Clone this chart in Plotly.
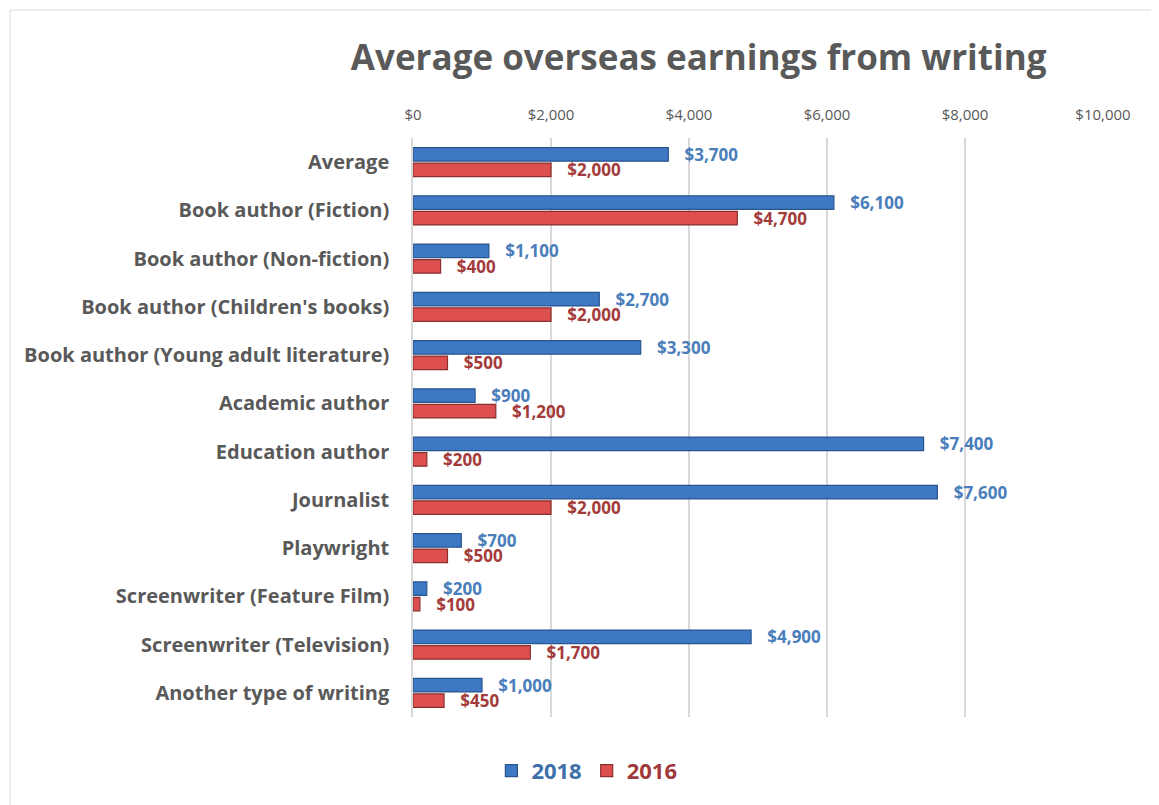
import plotly.graph_objects as go

categories = [
    "Average",
    "Book author (Fiction)",
    "Book author (Non-fiction)",
    "Book author (Children's books)",
    "Book author (Young adult literature)",
    "Academic author",
    "Education author",
    "Journalist",
    "Playwright",
    "Screenwriter (Feature Film)",
    "Screenwriter (Television)",
    "Another type of writing",
]
values_2018 = [3700, 6100, 1100, 2700, 3300, 900, 7400, 7600, 700, 200, 4900, 1000]
values_2016 = [2000, 4700, 400, 2000, 500, 1200, 200, 2000, 500, 100, 1700, 450]
tick_vals = [0, 2000, 4000, 6000, 8000, 10000]

FONT = "Open Sans"
BLUE_FILL = "#3D78C4"
BLUE_LINE = "#2A568E"
BLUE_TEXT = "#4A7EBB"
RED_FILL = "#DE4F4F"
RED_LINE = "#8C2E2E"
RED_TEXT = "#A33B3B"
GREY = "#595959"
PAD = "\u00a0\u00a0\u00a0"

fig = go.Figure()
fig.add_trace(go.Bar(
    y=categories, x=values_2018, orientation="h",
    name="<span style='color:#3F6FA8'>2018</span>",
    marker=dict(color=BLUE_FILL, line=dict(color=BLUE_LINE, width=1.2)),
    text=[f"{PAD}${v:,}" for v in values_2018], textposition="outside",
    textfont=dict(family=FONT, size=17, color=BLUE_TEXT, weight="bold"),
    cliponaxis=False,
))
fig.add_trace(go.Bar(
    y=categories, x=values_2016, orientation="h",
    name="<span style='color:#A03A3A'>2016</span>",
    marker=dict(color=RED_FILL, line=dict(color=RED_LINE, width=1.2)),
    text=[f"{PAD}${v:,}" for v in values_2016], textposition="outside",
    textfont=dict(family=FONT, size=17, color=RED_TEXT, weight="bold"),
    cliponaxis=False,
))

fig.update_layout(
    width=1151, height=797,
    paper_bgcolor="white", plot_bgcolor="white",
    margin=dict(l=405, r=56, t=130, b=88),
    barmode="group", bargap=0.36, bargroupgap=0.12,
    font=dict(family=FONT, color=GREY),
    title=dict(
        text="<b>Average overseas earnings from writing</b>",
        font=dict(family=FONT, size=35, color=GREY),
        x=0.414, xref="paper", xanchor="center",
        y=1 - 50 / 797, yref="container", yanchor="middle",
    ),
    legend=dict(
        orientation="h", x=0.252, xanchor="center", y=-0.093, yanchor="middle",
        font=dict(family=FONT, size=22, weight="bold"),
        itemwidth=30, traceorder="normal",
    ),
    uniformtext=dict(minsize=17, mode="show"),
)
fig.update_xaxes(
    side="top", range=[0, 10000], tickvals=tick_vals,
    ticktext=[f"${v:,}" for v in tick_vals],
    tickfont=dict(family=FONT, size=15, color=GREY),
    showgrid=True, gridcolor="#D9D9D9", gridwidth=1.5,
    zeroline=False, showline=False, ticks="", ticklabelstandoff=14,
)
fig.update_yaxes(
    autorange="reversed",
    tickfont=dict(family=FONT, size=20, color=GREY, weight="bold"),
    showline=True, linecolor="#D9D9D9", linewidth=1.5,
    ticks="", ticklen=0, ticklabelstandoff=18,
)
fig.add_shape(type="rect", xref="paper", yref="paper",
              x0=-0.584, x1=1.079, y0=-0.16, y1=1.221,
              line=dict(color="#D9D9D9", width=1), layer="below")

fig.write_html("out.html")
